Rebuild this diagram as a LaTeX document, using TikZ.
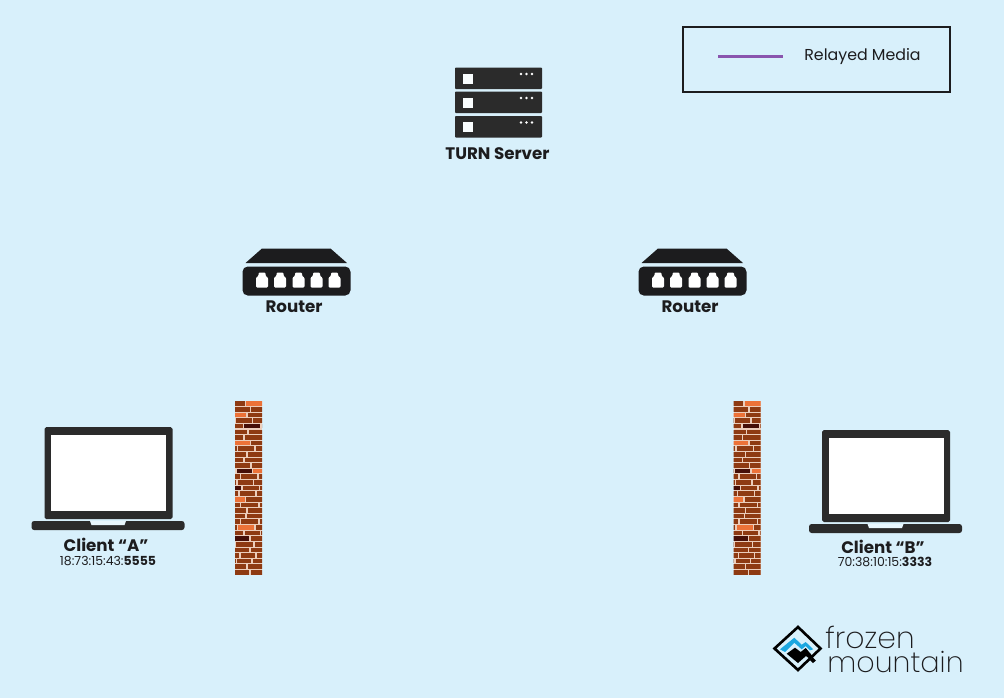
\documentclass[tikz,border=0pt]{standalone}
\usepackage{fontspec}
\setmainfont{Poppins}
\newfontfamily\logofont{Poppins ExtraLight}
\usepackage{xcolor}
\usepackage{tikz}

\definecolor{skyback}{HTML}{D8F0FB}
\definecolor{devicedark}{HTML}{2B2B2B}
\definecolor{inkdark}{HTML}{1C1C1E}
\definecolor{relaypurple}{HTML}{8A55AE}
\definecolor{brick}{HTML}{8E3A12}
\definecolor{brickhi}{HTML}{EC7238}
\definecolor{brickdk}{HTML}{450F08}
\definecolor{mortar}{HTML}{EBCDBB}
\definecolor{logoblue}{HTML}{1CA7E0}

\tikzset{
  label text/.style = {font=\bfseries\fontsize{9.5}{11}\selectfont, text=inkdark, inner sep=0pt},
  addr text/.style = {font=\fontsize{7.1}{9}\selectfont, text=inkdark, inner sep=0pt},
  pics/serverunit/.style = {code = {
    \fill[devicedark, rounded corners=0.5] (0,0) rectangle (87,21.5);
    \fill[white!85!skyback] (7.5,6) rectangle (17.5,16);
    \foreach \i in {66,71.5,77}{\fill[white] (\i,6.5) circle (1.3);}
  }},
  pics/routerbox/.style = {code = {
    \fill[inkdark] (19.5,0) -- (88,0) -- (104.5,14.5) -- (3,14.5) -- cycle;
    \fill[inkdark, rounded corners=3] (0,18) rectangle (108,47);
    \foreach \i in {19.5,37.5,56,74,92}{
      \fill[white, rounded corners=0.6] (\i-6,39) -- (\i-6,29) -- (\i-3.5,27.5) -- (\i-3.5,24) -- (\i+3.5,24) -- (\i+3.5,27.5) -- (\i+6,29) -- (\i+6,39) -- cycle;
    }
  }},
  pics/laptop/.style = {code = {
    \fill[devicedark, rounded corners=1] (13,0) rectangle (141,92);
    \fill[white] (19.5,8) rectangle (134.5,84);
    \fill[devicedark, rounded corners=1.5] (0,94) rectangle (153,103);
    \fill[skyback!60!white] (58.5,94) -- (94.5,94) -- (93,98) -- (60,98) -- cycle;
  }},
  pics/brickwall/.style = {code = {
    \fill[mortar] (0,0) rectangle (27,174);
    \begin{scope}
    \clip (0,0) rectangle (27,174);
    \foreach \r/\a/\b/\ca/\cb/\cc in {
      0/10.5/30/brick/brickhi/brick, 1/15.5/30/brick/brick/brick,
      2/12/30/brickhi/brick/brick, 3/0.5/17.5/brick/brick/brick,
      4/8.5/26/brick/brickdk/brick, 5/13/30/brick/brick/brick,
      6/9/30/brick/brick/brick, 7/15.5/30/brickhi/brick/brick,
      8/2.5/20/brick/brick/brick, 9/12/30/brick/brick/brick,
      10/9/30/brick/brick/brick, 11/16/30/brick/brick/brick,
      12/1/17.5/brick/brickdk/brickhi, 13/5.5/23/brick/brick/brick,
      14/2/18.5/brick/brick/brick, 15/7/24.5/brickdk/brick/brick,
      16/4/21/brick/brick/brick, 17/10.5/30/brickhi/brick/brick,
      18/5.5/24/brick/brick/brick, 19/12/30/brick/brick/brick,
      20/11/30/brick/brick/brick, 21/5.5/24/brick/brick/brick,
      22/2.5/20/brick/brickhi/brick, 23/9/25.5/brick/brick/brick,
      24/15/30/brickdk/brick/brick, 25/0.8/19/brick/brick/brick,
      26/15/30/brick/brick/brick, 27/5/21/brick/brick/brick,
      28/1.5/17/brick/brick/brick, 29/12/30/brick/brick/brick,
      30/15/30/brick/brick/brick}{
      \fill[\ca] (-1,\r*5.62+0.4) rectangle (\a-0.6,\r*5.62+5);
      \fill[\cb] (\a+0.6,\r*5.62+0.4) rectangle (\b-0.6,\r*5.62+5);
      \fill[\cc] (\b+0.6,\r*5.62+0.4) rectangle (28,\r*5.62+5);
    }
    \end{scope}
  }}
}

\begin{document}
\begin{tikzpicture}[x=0.02cm, y=-0.02cm]
\useasboundingbox (0,0) rectangle (1004,698);
\fill[skyback] (0,0) rectangle (1004,698);

% Legend
\draw[inkdark, line width=0.8pt] (683,27) rectangle (950,92);
\coordinate (legstart) at (718,56.5);
\coordinate (legend) at (783,56.5);
\draw[relaypurple, line width=1.2pt] (legstart) -- (legend);
\node[font=\fontsize{9}{11}\selectfont, text=inkdark, inner sep=0pt, anchor=west] (legendtext) at (804,57) {Relayed Media};

% Server stack
\foreach \y in {67.5,91.5,116}{\pic at (455,\y) {serverunit};}
\node[label text] (turn) at (497.5,153.5) {TURN Server};

% Routers
\pic at (242.5,248.5) {routerbox};
\pic at (638.5,248.5) {routerbox};
\node[label text] (routerL) at (294,306.5) {Router};
\node[label text] (routerR) at (690,306.5) {Router};

% Walls
\pic at (235,401) {brickwall};
\pic at (733.5,401) {brickwall};

% Clients
\pic at (31.5,427) {laptop};
\pic at (809,430) {laptop};
\node[label text] (clientA) at (106,544.5) {Client “A”};
\node[addr text] (addrA) at (108,561) {18:73:15:43:\textbf{5555}};
\node[label text] (clientB) at (883,546.5) {Client “B”};
\node[addr text] (addrB) at (885,562) {70:38:10:15:\textbf{3333}};

% Logo
\draw[black, line width=1.5pt, line join=miter] (774.5,648.5) -- (798,627) -- (820.5,648.5) -- (798,670) -- cycle;
\fill[logoblue] (780,649.3) -- (794.3,637.7) -- (801.7,644.7) -- (805.7,642) -- (813.3,649.3) -- (810,650.3) -- (805.7,646) -- (801.7,649.3) -- (794.3,642.7) -- (785,652) -- cycle;
\fill[black] (786.7,653.7) -- (795,647.7) -- (800.7,652) -- (805.7,648) -- (813.3,657) -- (810,659) -- (806,656) -- (798,663) -- cycle;
\fill[black] (810,660) -- (813,657.5) -- (816,660.5) -- (813,663) -- cycle;
\node[font=\logofont\fontsize{17}{17}\selectfont, text=inkdark, inner sep=0pt, anchor=base west] (frozen) at (825,648.5) {frozen};
\node[font=\logofont\fontsize{16.3}{17}\selectfont, text=inkdark, inner sep=0pt, anchor=base west] (mountain) at (827,672.5) {mountain};
\end{tikzpicture}
\end{document}
